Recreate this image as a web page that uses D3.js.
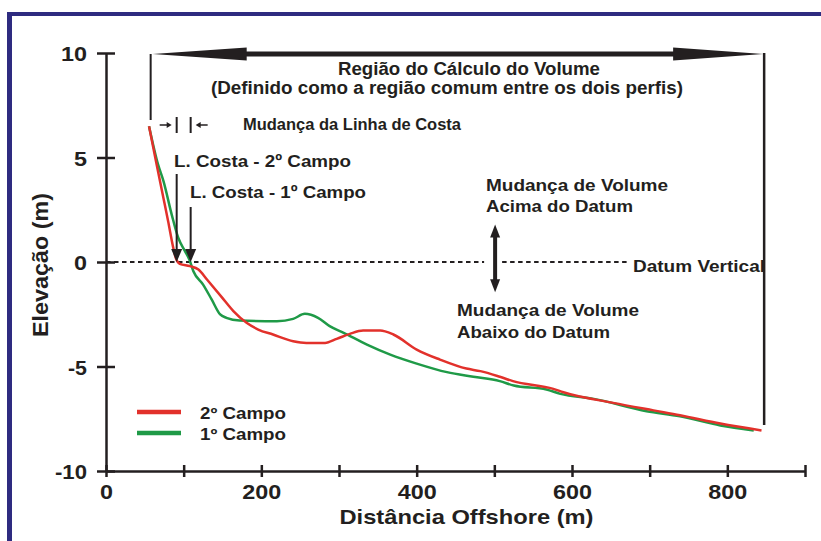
<!DOCTYPE html>
<html>
<head>
<meta charset="utf-8">
<script src="https://cdn.jsdelivr.net/npm/d3@7"></script>
<style>
  body { margin: 0; background: #fff; }
  svg text { font-family: "Liberation Sans", Arial, sans-serif; font-weight: bold; fill: #231f20; }
</style>
</head>
<body>
<svg id="chart" width="821" height="541"></svg>
<script>
// perfis de praia (distancia offshore m, elevacao m)
const campo2 = [
  [55.4, 6.5], [65, 4.7], [74, 3.05], [80, 1.95], [86.5, 0.7], [90, 0.17], [95, -0.09],
  [108, -0.2], [119, -0.36], [130, -0.84], [149, -1.68], [164, -2.35], [181, -2.91],
  [196, -3.23], [215, -3.47], [241, -3.79], [258, -3.87], [282, -3.87], [297, -3.68],
  [314, -3.44], [331, -3.28], [353, -3.28], [370, -3.47], [400, -4.19], [430, -4.67],
  [464, -5.1], [482, -5.22], [507, -5.49], [524, -5.7], [576, -6.07], [589, -6.23],
  [653, -6.74], [705, -7.1], [739, -7.33], [791, -7.73], [844, -8.06]
];
const campo1 = [
  [55.4, 6.5], [67, 4.67], [74, 3.87], [84.6, 2.27], [93, 1.16], [101.7, 0.52],
  [107.3, 0.12], [112.5, -0.44], [125, -1.08], [136, -1.79], [147, -2.51], [155, -2.67],
  [172, -2.8], [220, -2.83], [241, -2.72], [256, -2.48], [273, -2.67], [288, -3.07],
  [306, -3.39], [336, -3.95], [366, -4.43], [400, -4.86], [439, -5.27], [473, -5.49],
  [507, -5.7], [525, -5.91], [567, -6.1], [585, -6.31], [628, -6.55], [696, -7.14],
  [739, -7.38], [791, -7.82], [834, -8.06]
];
const xTicks = [0, 100, 200, 300, 400, 500, 600, 700, 800, 900];
const xLabels = [0, 200, 400, 600, 800];
const yTicks = [10, 5, 0, -5, -10];
const regiao = [57.5, 847.4];      // limites da regiao do calculo
const linhaCosta = [91, 109];      // L. Costa 2o campo, 1o campo
const setaVolume = 501;            // posicao da seta dupla

const svg = d3.select("#chart");
const x = d3.scaleLinear().domain([0, 900]).range([106, 805]);
const y = d3.scaleLinear().domain([-10, 10]).range([471, 53]);
const ink = "#231f20";

// texto com largura fixa, a fonte original e mais larga
function label(px, py, txt, size, width, anchor) {
  return svg.append("text").attr("x", px).attr("y", py)
    .attr("text-anchor", anchor || "start")
    .attr("textLength", width).attr("lengthAdjust", "spacingAndGlyphs")
    .style("font-size", size + "px").text(txt);
}

// moldura
svg.append("line").attr("x1", 7).attr("x2", 821).attr("y1", 14).attr("y2", 14)
  .attr("stroke", "#2e2b80").attr("stroke-width", 4);
svg.append("line").attr("x1", 9.5).attr("x2", 9.5).attr("y1", 12).attr("y2", 541)
  .attr("stroke", "#2e2b80").attr("stroke-width", 5);

// eixos
const yAxis = svg.append("g").attr("transform", `translate(${x(0)},0)`)
  .call(d3.axisLeft(y).tickValues(yTicks).tickSizeOuter(0).tickPadding(13).tickFormat(d => String(d)));
yAxis.selectAll("line").attr("x1", 9).attr("x2", -9);
const xAxis = svg.append("g").attr("transform", `translate(0,${y(-10)})`)
  .call(d3.axisBottom(x).tickValues(xTicks).tickSizeOuter(0).tickPadding(7)
    .tickFormat(d => xLabels.includes(d) ? String(d) : ""));
xAxis.selectAll("line").attr("y1", -6).attr("y2", 6);
svg.selectAll(".domain, .tick line").attr("stroke", ink).attr("stroke-width", 2.5);
svg.selectAll(".tick text").style("font-size", "21px").attr("fill", ink)
  .attr("textLength", function() {
    const t = this.textContent;
    return t.replace("-", "").length * 13 + (t.startsWith("-") ? 6 : 0);
  })
  .attr("lengthAdjust", "spacingAndGlyphs");
yAxis.selectAll(".tick text").attr("dy", "0.36em");

label((x(0) + x(900)) / 2 + 11, 524, "Distância Offshore (m)", 21, 254, "middle");
svg.append("text").attr("transform", "translate(48,265) rotate(-90)").attr("text-anchor", "middle")
  .attr("textLength", 144).attr("lengthAdjust", "spacingAndGlyphs")
  .style("font-size", "22px").text("Elevação (m)");

// datum vertical
svg.append("line").attr("x1", x(0)).attr("x2", x(setaVolume) - 11).attr("y1", y(0)).attr("y2", y(0))
  .attr("stroke", ink).attr("stroke-width", 2).attr("stroke-dasharray", "4.5,3.5");
svg.append("line").attr("x1", x(setaVolume) + 7).attr("x2", 628).attr("y1", y(0)).attr("y2", y(0))
  .attr("stroke", ink).attr("stroke-width", 2).attr("stroke-dasharray", "4.5,3.5");

// perfis
const line = d3.line().x(d => x(d[0])).y(d => y(d[1])).curve(d3.curveMonotoneX);
svg.append("path").datum(campo1).attr("d", line).attr("fill", "none")
  .attr("stroke", "#1f9a47").attr("stroke-width", 2.5);
svg.append("path").datum(campo2).attr("d", line).attr("fill", "none")
  .attr("stroke", "#e2312b").attr("stroke-width", 2.5);

// regiao do calculo do volume
const xl = x(regiao[0]), xr = x(regiao[1]), ya = y(10) + 1;
svg.append("line").attr("x1", xl).attr("x2", xl).attr("y1", ya).attr("y2", 120)
  .attr("stroke", ink).attr("stroke-width", 2);
svg.append("line").attr("x1", xr).attr("x2", xr).attr("y1", ya - 1).attr("y2", 425)
  .attr("stroke", ink).attr("stroke-width", 2.5);
svg.append("line").attr("x1", xl + 60).attr("x2", xr - 60).attr("y1", ya).attr("y2", ya)
  .attr("stroke", ink).attr("stroke-width", 5);
svg.append("path").attr("fill", ink)
  .attr("d", `M${xl + 2},${ya} L${xl + 96},${ya - 6.5} L${xl + 96},${ya + 6.5} Z`);
svg.append("path").attr("fill", ink)
  .attr("d", `M${xr - 1},${ya} L${xr - 91},${ya - 6.5} L${xr - 91},${ya + 6.5} Z`);

label(469, 75, "Região do Cálculo do Volume", 18, 262, "middle");
label(447, 94, "(Definido como a região comum entre os dois perfis)", 18, 472, "middle");

// mudanca da linha de costa
const c2 = x(linhaCosta[0]), c1 = x(linhaCosta[1]), ym = 125;
svg.append("line").attr("x1", c2).attr("x2", c2).attr("y1", ym - 8).attr("y2", ym + 8)
  .attr("stroke", ink).attr("stroke-width", 2);
svg.append("line").attr("x1", c1).attr("x2", c1).attr("y1", ym - 8).attr("y2", ym + 8)
  .attr("stroke", ink).attr("stroke-width", 2);
svg.append("line").attr("x1", c2 - 17).attr("x2", c2 - 9).attr("y1", ym).attr("y2", ym)
  .attr("stroke", ink).attr("stroke-width", 1.5);
svg.append("path").attr("fill", ink).attr("d", `M${c2 - 5},${ym} L${c2 - 10},${ym - 3} L${c2 - 10},${ym + 3} Z`);
svg.append("line").attr("x1", c1 + 17).attr("x2", c1 + 9).attr("y1", ym).attr("y2", ym)
  .attr("stroke", ink).attr("stroke-width", 1.5);
svg.append("path").attr("fill", ink).attr("d", `M${c1 + 5},${ym} L${c1 + 10},${ym - 3} L${c1 + 10},${ym + 3} Z`);
label(243, 130, "Mudança da Linha de Costa", 16, 218);

// setas da linha de costa
[[c2, 174], [c1, 207]].forEach(([cx, top]) => {
  svg.append("line").attr("x1", cx).attr("x2", cx).attr("y1", top).attr("y2", y(0) - 10)
    .attr("stroke", ink).attr("stroke-width", 2);
  svg.append("path").attr("fill", ink)
    .attr("d", `M${cx},${y(0)} L${cx - 5.5},${y(0) - 13} L${cx + 5.5},${y(0) - 13} Z`);
});
label(174, 167, "L. Costa - 2º Campo", 17, 177);
label(190, 198, "L. Costa - 1º Campo", 17, 176);

// seta dupla da mudanca de volume
const xv = x(setaVolume), yTop = y(1.8), yBot = y(-1.45);
svg.append("line").attr("x1", xv).attr("x2", xv).attr("y1", yTop + 10).attr("y2", yBot - 10)
  .attr("stroke", ink).attr("stroke-width", 4);
svg.append("path").attr("fill", ink).attr("d", `M${xv},${yTop} L${xv - 5},${yTop + 13} L${xv + 5},${yTop + 13} Z`);
svg.append("path").attr("fill", ink).attr("d", `M${xv},${yBot} L${xv - 5},${yBot - 13} L${xv + 5},${yBot - 13} Z`);

label(486, 191, "Mudança de Volume", 16, 182);
label(486, 212, "Acima do Datum", 16, 147);
label(633, 272, "Datum Vertical", 16, 132);
label(457, 316, "Mudança de Volume", 16, 182);
label(457, 338, "Abaixo do Datum", 16, 153);

// legenda
const legenda = [["2º Campo", "#e2312b"], ["1º Campo", "#1f9a47"]];
legenda.forEach(([nome, cor], i) => {
  const ly = 412 + i * 21;
  svg.append("line").attr("x1", 137).attr("x2", 181).attr("y1", ly).attr("y2", ly)
    .attr("stroke", cor).attr("stroke-width", 4.5);
  label(200, ly + 7, nome, 16, 86);
});
</script>
</body>
</html>
